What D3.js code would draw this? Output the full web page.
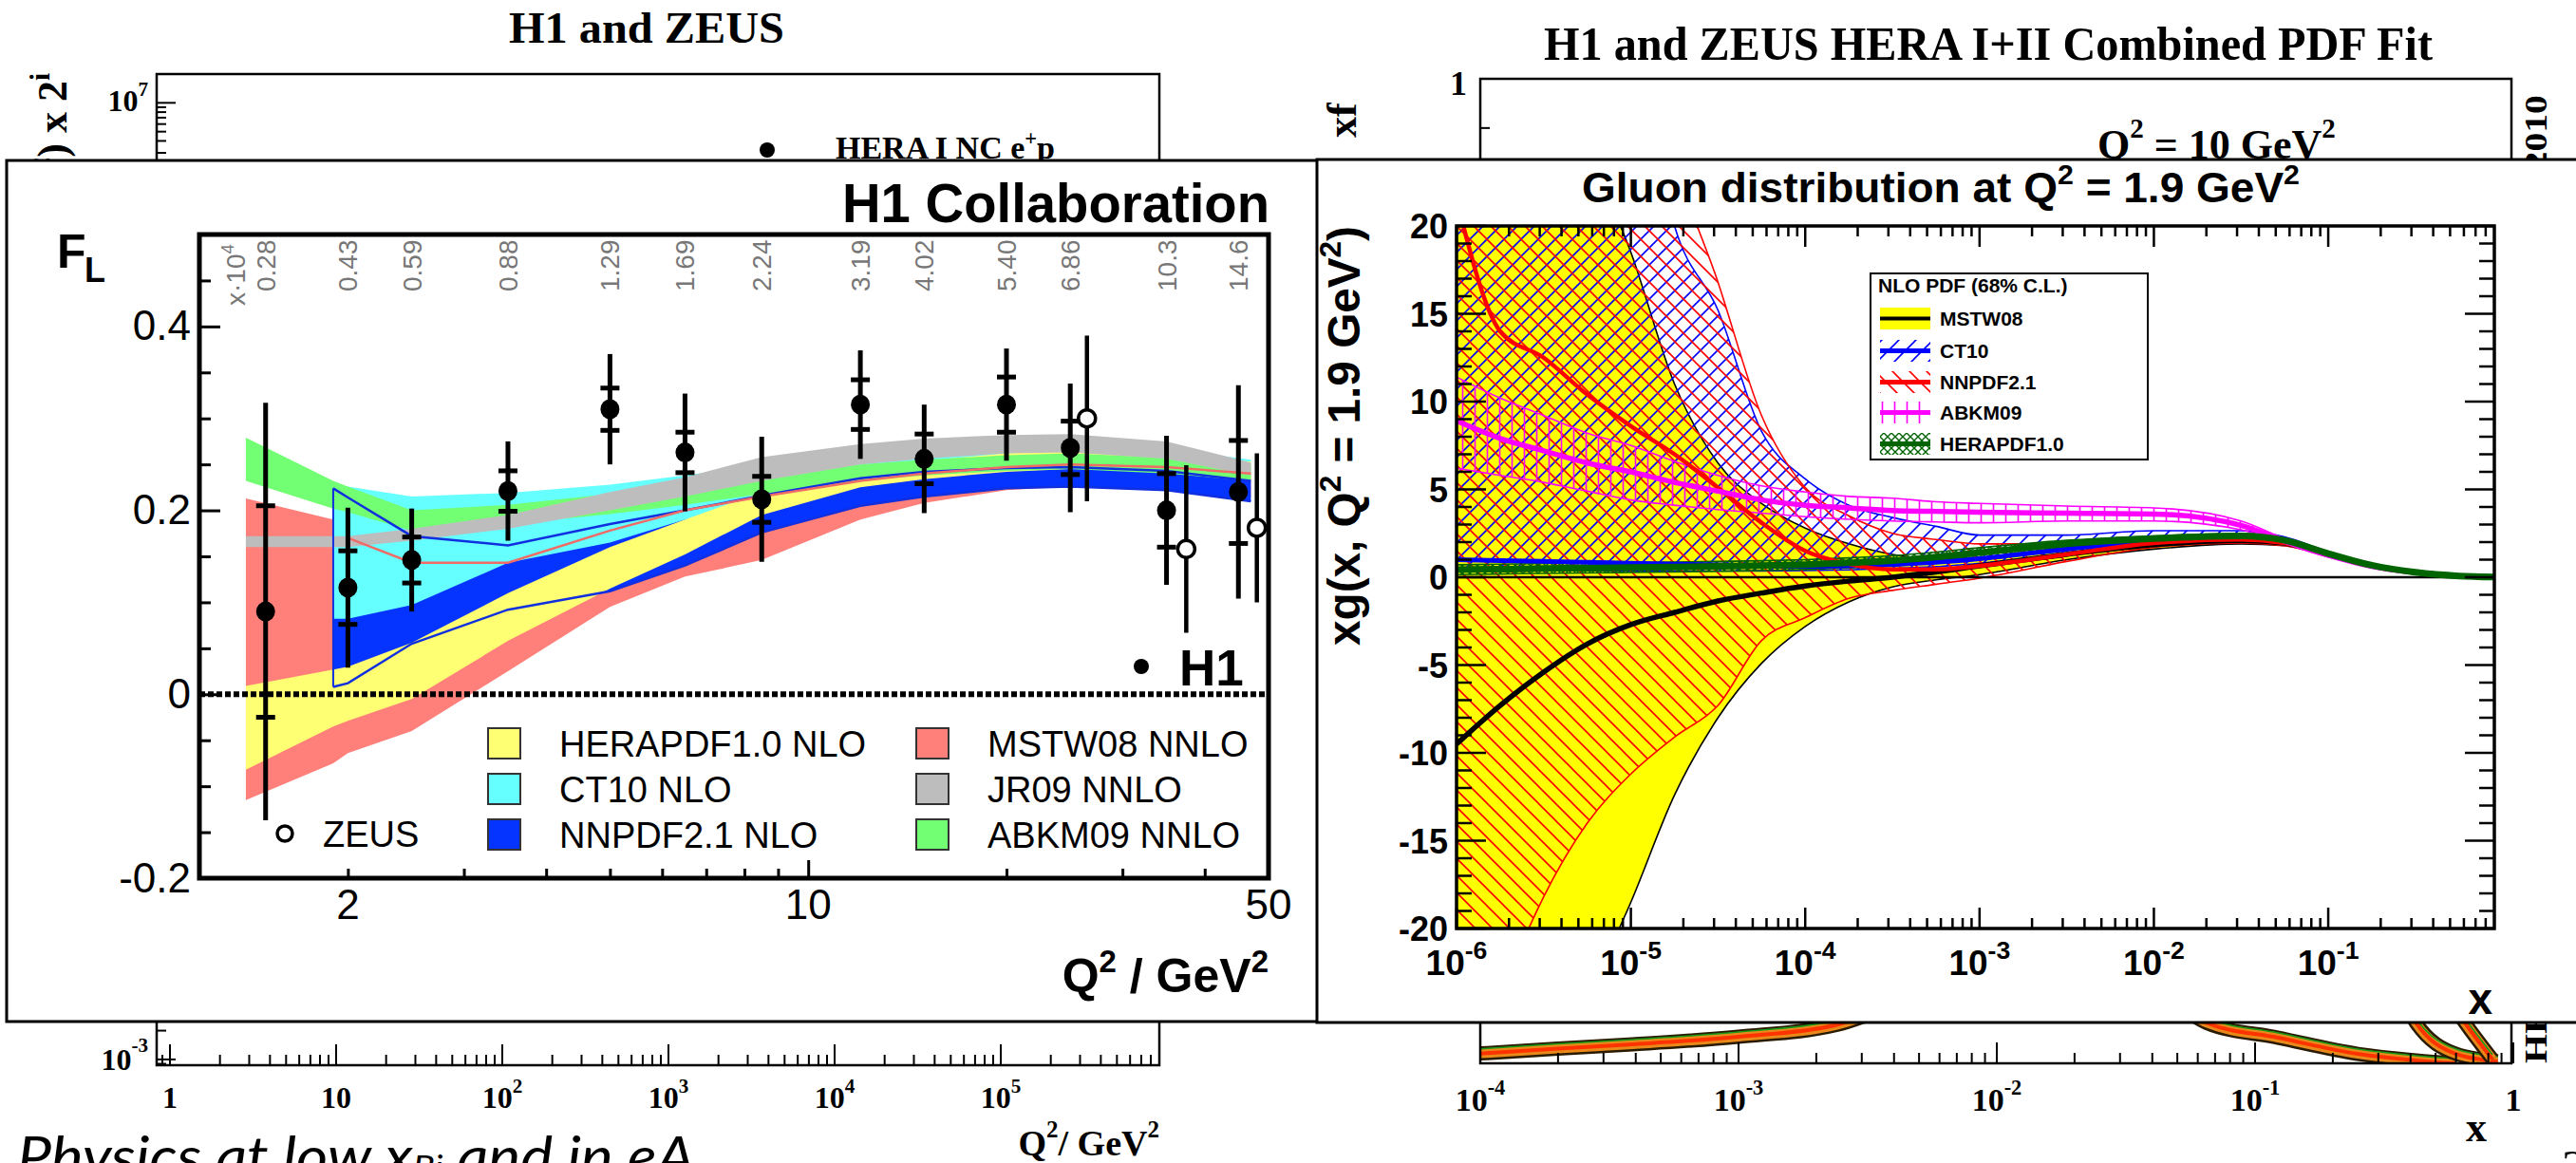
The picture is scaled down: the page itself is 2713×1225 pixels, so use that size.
<!DOCTYPE html>
<html>
<head>
<meta charset="utf-8">
<script src="https://cdn.jsdelivr.net/npm/d3@7"></script>
<style>
  body { margin: 0; background: #fff; }
  svg { display: block; }
</style>
</head>
<body>
<script>
const W = 2713, H = 1225;
const SANS = '"Liberation Sans", Arial, sans-serif';
const SERIF = '"Liberation Serif", "Times New Roman", serif';

/* ---------- F_L panel data ---------- */
const H1_Q2   = [1.5, 2, 2.5, 3.5, 5, 6.5, 8.5, 12, 15, 20, 25, 35, 45];
const H1_FL   = [0.090, 0.116, 0.146, 0.221, 0.310, 0.263, 0.212, 0.315, 0.256, 0.315, 0.268, 0.200, 0.220];
const H1_STAT = [0.115, 0.040, 0.025, 0.022, 0.023, 0.022, 0.025, 0.027, 0.027, 0.030, 0.029, 0.040, 0.056];
const H1_TOT  = [0.227, 0.087, 0.056, 0.054, 0.060, 0.064, 0.068, 0.059, 0.059, 0.061, 0.070, 0.081, 0.116];
const H1_XBJ  = ["0.28", "0.43", "0.59", "0.88", "1.29", "1.69", "2.24", "3.19", "4.02", "5.40", "6.86", "10.3", "14.6"];
const ZEUS_Q2  = [26.5, 37.5, 48];
const ZEUS_FL  = [0.300, 0.158, 0.181];
const ZEUS_ERR = [0.090, 0.091, 0.081];

const BAND_Q2 = [1.4, 1.9, 2, 2.5, 3.5, 5, 6.5, 8.5, 12, 15, 20, 25, 35, 47];
const MSTW_LO = [-0.115, -0.075, -0.064, -0.040, 0.025, 0.095, 0.128, 0.146, 0.190, 0.208, 0.222, 0.226, 0.224, 0.214];
const MSTW_HI = [0.213, 0.190, 0.170, 0.143, 0.143, 0.178, 0.200, 0.215, 0.232, 0.240, 0.247, 0.250, 0.247, 0.240];
const NNPDF_LO = [null, 0.008, 0.012, 0.055, 0.092, 0.112, 0.140, 0.176, 0.205, 0.215, 0.224, 0.226, 0.222, 0.210];
const NNPDF_HI = [null, 0.224, 0.214, 0.172, 0.162, 0.185, 0.200, 0.216, 0.235, 0.242, 0.246, 0.247, 0.243, 0.232];
const CT10_LO = [null, 0.082, 0.082, 0.097, 0.143, 0.165, 0.190, 0.210, 0.232, 0.240, 0.246, 0.248, 0.245, 0.236];
const CT10_HI = [null, 0.226, 0.226, 0.215, 0.219, 0.228, 0.238, 0.250, 0.262, 0.267, 0.271, 0.272, 0.267, 0.255];
const HERA_LO = [-0.082, -0.035, -0.029, -0.005, 0.058, 0.115, 0.152, 0.195, 0.225, 0.234, 0.242, 0.245, 0.242, 0.236];
const HERA_HI = [0.009, 0.027, 0.030, 0.056, 0.110, 0.160, 0.190, 0.220, 0.245, 0.254, 0.262, 0.265, 0.262, 0.253];
const ABKM_LO = [0.232, 0.202, 0.198, 0.178, 0.185, 0.196, 0.206, 0.218, 0.232, 0.238, 0.243, 0.245, 0.240, 0.232];
const ABKM_HI = [0.279, 0.232, 0.226, 0.200, 0.206, 0.218, 0.228, 0.238, 0.250, 0.255, 0.260, 0.262, 0.257, 0.248];
const JR09_LO = [0.160, 0.160, 0.160, 0.167, 0.180, 0.200, 0.215, 0.232, 0.250, 0.256, 0.262, 0.263, 0.256, 0.238];
const JR09_HI = [0.172, 0.172, 0.172, 0.180, 0.195, 0.220, 0.236, 0.258, 0.272, 0.278, 0.282, 0.283, 0.275, 0.252];

const FL_YMAJOR = [-0.2, 0, 0.2, 0.4];
const FL_YLABELS = ["-0.2", "0", "0.2", "0.4"];
const FL_YMINOR = [-0.15, -0.1, -0.05, 0.05, 0.1, 0.15, 0.25, 0.3, 0.35, 0.45];
const FL_XMAJOR = [10];
const FL_XMINOR = [2, 3, 4, 5, 6, 7, 8, 9, 20, 30, 40];
const FL_XLABELS = [2, 10, 50];
const FL_LEGEND = [
  ["HERAPDF1.0 NLO", "#ffff73"], ["CT10 NLO", "#66ffff"], ["NNPDF2.1 NLO", "#0533ff"],
  ["MSTW08 NNLO", "#ff7f7a"], ["JR09 NNLO", "#bdbdbd"], ["ABKM09 NNLO", "#73ff73"]
];

/* ---------- gluon panel data ---------- */
const GX = [1e-6, 1.78e-6, 3.16e-6, 5.62e-6, 1e-5, 1.78e-5, 3.16e-5, 5.62e-5, 1e-4, 1.78e-4, 3.16e-4,
            5.62e-4, 1e-3, 3.16e-3, 1e-2, 3.16e-2, 5.62e-2, 0.1, 0.178, 0.316, 0.562, 0.891];
const G_MSTW_LO = [-48, -38, -30, -24, -18.5, -12.4, -8.0, -4.9, -2.8, -1.4, -0.55, -0.15, 0.15, 1.0, 1.6, 1.9, 1.8, 1.2, 0.6, 0.25, 0.06, 0.005];
const G_MSTW_C  = [-9.5, -7.3, -5.4, -3.8, -2.7, -2.0, -1.35, -0.9, -0.5, -0.22, 0.0, 0.3, 0.65, 1.3, 1.85, 2.1, 1.95, 1.3, 0.65, 0.28, 0.07, 0.01];
const G_MSTW_HI = [48, 40, 32, 24.5, 18.5, 11.0, 6.5, 4.2, 2.8, 1.9, 1.3, 1.05, 1.1, 1.6, 2.1, 2.3, 2.1, 1.4, 0.7, 0.3, 0.08, 0.01];
const G_CT10_LO = [0.45, 0.42, 0.4, 0.38, 0.36, 0.35, 0.35, 0.36, 0.38, 0.42, 0.5, 0.6, 0.8, 1.35, 1.85, 2.0, 1.85, 1.2, 0.58, 0.25, 0.06, 0.005];
const G_CT10_C  = [1.0, 0.95, 0.9, 0.85, 0.8, 0.75, 0.7, 0.65, 0.62, 0.65, 0.72, 0.85, 1.05, 1.6, 2.1, 2.3, 2.1, 1.35, 0.68, 0.28, 0.07, 0.01];
const G_CT10_HI = [80, 70, 60, 48, 32, 20, 15.2, 8.3, 5.6, 4.1, 3.4, 2.9, 2.4, 2.4, 2.65, 2.65, 2.3, 1.45, 0.75, 0.32, 0.08, 0.01];
const G_NNPDF_LO = [-32, -24, -18.2, -14.0, -11.2, -9.1, -7.3, -3.6, -2.3, -1.2, -0.75, -0.4, -0.05, 0.9, 1.7, 1.95, 1.8, 1.2, 0.58, 0.25, 0.06, 0.005];
const G_NNPDF_C  = [21.5, 14.0, 12.5, 10.4, 8.6, 7.0, 5.1, 3.1, 1.5, 0.75, 0.45, 0.45, 0.65, 1.3, 1.95, 2.15, 1.95, 1.3, 0.65, 0.28, 0.07, 0.01];
const G_NNPDF_HI = [90, 80, 68, 52, 36, 24, 16.8, 9.2, 5.1, 3.5, 2.5, 2.15, 1.9, 1.9, 2.3, 2.35, 2.1, 1.4, 0.72, 0.3, 0.08, 0.01];
const G_ABKM_LO = [6.2, 5.8, 5.4, 4.9, 4.4, 4.1, 3.85, 3.65, 3.45, 3.3, 3.2, 3.15, 3.1, 3.2, 3.2, 2.7, 1.9, 1.15, 0.58, 0.25, 0.06, 0.005];
const G_ABKM_C  = [8.9, 7.9, 7.2, 6.5, 6.0, 5.4, 4.9, 4.4, 4.1, 3.95, 3.8, 3.75, 3.7, 3.65, 3.6, 2.95, 2.05, 1.25, 0.62, 0.27, 0.07, 0.01];
const G_ABKM_HI = [11.4, 10.2, 9.2, 8.2, 7.5, 6.6, 5.8, 5.2, 4.85, 4.6, 4.5, 4.3, 4.2, 4.05, 3.95, 3.2, 2.2, 1.35, 0.68, 0.3, 0.08, 0.01];
const G_HERA_LO = [0.15, 0.18, 0.22, 0.24, 0.27, 0.3, 0.34, 0.38, 0.44, 0.54, 0.67, 0.87, 1.12, 1.7, 2.05, 2.22, 2.0, 1.28, 0.64, 0.26, 0.06, 0.005];
const G_HERA_C  = [0.43, 0.46, 0.5, 0.52, 0.55, 0.58, 0.62, 0.66, 0.72, 0.82, 0.95, 1.15, 1.4, 1.9, 2.2, 2.35, 2.1, 1.35, 0.68, 0.28, 0.07, 0.01];
const G_HERA_HI = [0.71, 0.74, 0.78, 0.8, 0.83, 0.86, 0.9, 0.94, 1.0, 1.1, 1.23, 1.43, 1.68, 2.1, 2.35, 2.48, 2.2, 1.42, 0.72, 0.3, 0.08, 0.012];

const G_YLABELS = [20, 15, 10, 5, 0, -5, -10, -15, -20];
const G_XLABELS = [[1e-6, "-6"], [1e-5, "-5"], [1e-4, "-4"], [1e-3, "-3"], [1e-2, "-2"], [1e-1, "-1"]];
const G_LEGEND = ["MSTW08", "CT10", "NNPDF2.1", "ABKM09", "HERAPDF1.0"];

/* ---------- background slide plots ---------- */
const BGL_XLABELS = [[1, ""], [10, ""], [100, "2"], [1e3, "3"], [1e4, "4"], [1e5, "5"]];
const BGR_XLABELS = [[1e-4, "10", "-4"], [1e-3, "10", "-3"], [1e-2, "10", "-2"], [1e-1, "10", "-1"], [1, "1", ""]];
const BGR_CURVES = [
  [[1e-4, 0.010], [2e-4, 0.015], [3.9e-4, 0.0193], [1e-3, 0.027], [2.4e-3, 0.039], [4e-3, 0.06]],
  [[0.05, 0.06], [0.065, 0.041], [0.123, 0.026], [0.25, 0.0096], [0.42, 0.003], [0.6, 0.0]],
  [[0.38, 0.06], [0.42, 0.041], [0.6, 0.0096], [0.87, 0.002]],
  [[0.58, 0.06], [0.65, 0.041], [0.83, 0.004]]
];

/* ---------------------------------- */
function richText(parent, x, y, parts, size, o = {}) {
  const t = parent.append("text").attr("x", x).attr("y", y)
    .attr("font-size", size).attr("font-family", o.family || SANS)
    .attr("font-weight", o.weight || "normal").attr("font-style", o.style || "normal")
    .attr("text-anchor", o.anchor || "start").attr("fill", o.fill || "#000");
  if (o.transform) t.attr("transform", o.transform);
  let raised = 0;
  parts.forEach(p => {
    const [str, kind] = Array.isArray(p) ? p : [p, null];
    const span = t.append("tspan").text(str);
    let target = 0;
    if (kind === "sup") { target = -size * (o.raise || 0.42); span.attr("font-size", size * (o.supScale || 0.66)); }
    span.attr("dy", target - raised);
    raised = target;
  });
  if (o.length) t.attr("textLength", o.length).attr("lengthAdjust", "spacingAndGlyphs");
  return t;
}

const svg = d3.select("body").append("svg").attr("width", W).attr("height", H);
svg.append("rect").attr("width", W).attr("height", H).attr("fill", "#fff");
const defs = svg.append("defs");

/* ===== background: left plot (H1 and ZEUS) ===== */
const bgL = svg.append("g");
const bgLX = d3.scaleLog().domain([0.832, 9.0e5]).range([165, 1221]);
const bgLY = d3.scaleLog().domain([8.7e-4, 2.0e7]).range([1122, 78]);
richText(bgL, 681, 45, ["H1 and ZEUS"], 46, {family: SERIF, weight: "bold", anchor: "middle", length: 290});
bgL.append("rect").attr("x", 165).attr("y", 78).attr("width", 1056).attr("height", 1044)
   .attr("fill", "none").attr("stroke", "#000").attr("stroke-width", 2.5);
bgLX.ticks().forEach(v => {
  const major = Math.abs(Math.log10(v) - Math.round(Math.log10(v))) < 1e-6;
  bgL.append("line").attr("x1", bgLX(v)).attr("x2", bgLX(v))
     .attr("y1", 1122).attr("y2", 1122 - (major ? 22 : 11)).attr("stroke", "#000").attr("stroke-width", 2);
});
bgLY.ticks(30).forEach(v => {
  const major = Math.abs(Math.log10(v) - Math.round(Math.log10(v))) < 1e-6;
  bgL.append("line").attr("x1", 165).attr("x2", 165 + (major ? 20 : 10))
     .attr("y1", bgLY(v)).attr("y2", bgLY(v)).attr("stroke", "#000").attr("stroke-width", 2);
});
BGL_XLABELS.forEach(([v, e]) => {
  richText(bgL, bgLX(v), 1167, e ? ["10", [e, "sup"]] : [String(v)], 32, {family: SERIF, weight: "bold", anchor: "middle", raise: 0.5});
});
richText(bgL, 1221, 1217, ["Q", ["2", "sup"], "/ GeV", ["2", "sup"]], 38, {family: SERIF, weight: "bold", anchor: "end", raise: 0.5});
richText(bgL, 156, 117, ["10", ["7", "sup"]], 32, {family: SERIF, weight: "bold", anchor: "end", raise: 0.5});
richText(bgL, 156, 1127, ["10", ["-3", "sup"]], 32, {family: SERIF, weight: "bold", anchor: "end", raise: 0.6});
richText(bgL, 0, 0, ["\u03c3", "r,NC(x,Q", ["2", "sup"], ") x 2", ["i", "sup"]], 44,
  {family: SERIF, weight: "bold", anchor: "end", transform: "translate(70,77) rotate(-90)"});
bgL.append("circle").attr("cx", 808).attr("cy", 158).attr("r", 8).attr("fill", "#000");
richText(bgL, 880, 167, ["HERA I NC e", ["+", "sup"], "p"], 34, {family: SERIF, weight: "bold"});

/* ===== background: right plot (HERA I+II PDF fit) ===== */
const bgR = svg.append("g");
const bgRX = d3.scaleLog().domain([1e-4, 1]).range([1559, 2647]);
const bgRY = d3.scaleLinear().domain([0, 1]).range([1120, 83]);
richText(bgR, 2094, 63, ["H1 and ZEUS HERA I+II Combined PDF Fit"], 50, {family: SERIF, weight: "bold", anchor: "middle", length: 936});
defs.append("clipPath").attr("id", "bgRclip").append("rect")
    .attr("x", 1559).attr("y", 83).attr("width", 1086).attr("height", 1037);
const bgRc = bgR.append("g").attr("clip-path", "url(#bgRclip)");
const bgLine = d3.line().x(d => bgRX(d[0])).y(d => bgRY(d[1])).curve(d3.curveMonotoneX);
BGR_CURVES.forEach(c => {
  bgRc.append("path").attr("d", bgLine(c)).attr("fill", "none").attr("stroke", "#2a1a00").attr("stroke-width", 15);
  bgRc.append("path").attr("d", bgLine(c)).attr("fill", "none").attr("stroke", "#e8891a").attr("stroke-width", 10);
  bgRc.append("path").attr("d", bgLine(c)).attr("fill", "none").attr("stroke", "#ff3300").attr("stroke-width", 4);
  bgRc.append("path").attr("d", bgLine(c)).attr("fill", "none").attr("stroke", "#1a9a1a").attr("stroke-width", 1.5)
      .attr("transform", "translate(0,-5)");
});
bgR.append("rect").attr("x", 1559).attr("y", 83).attr("width", 1086).attr("height", 1037)
   .attr("fill", "none").attr("stroke", "#000").attr("stroke-width", 2.5);
bgRX.ticks().forEach(v => {
  const major = Math.abs(Math.log10(v) - Math.round(Math.log10(v))) < 1e-6;
  bgR.append("line").attr("x1", bgRX(v)).attr("x2", bgRX(v))
     .attr("y1", 1120).attr("y2", 1120 - (major ? 22 : 11)).attr("stroke", "#000").attr("stroke-width", 2);
});
d3.range(0, 1.0001, 0.05).forEach(v => {
  bgR.append("line").attr("x1", 1559).attr("x2", 1559 + 10).attr("y1", bgRY(v)).attr("y2", bgRY(v))
     .attr("stroke", "#000").attr("stroke-width", 2);
});
BGR_XLABELS.forEach(([v, b, e]) => {
  richText(bgR, bgRX(v), 1170, e ? [b, [e, "sup"]] : [b], 34, {family: SERIF, weight: "bold", anchor: "middle", raise: 0.5});
});
richText(bgR, 2608, 1202, ["x"], 44, {family: SERIF, weight: "bold", anchor: "middle"});
richText(bgR, 1545, 100, ["1"], 36, {family: SERIF, weight: "bold", anchor: "end"});
richText(bgR, 0, 0, ["xf"], 44, {family: SERIF, weight: "bold", transform: "translate(1428,145) rotate(-90)"});
richText(bgR, 2209, 167, ["Q", ["2", "sup"], " = 10 GeV", ["2", "sup"]], 44, {family: SERIF, weight: "bold", raise: 0.5});
richText(bgR, 0, 0, ["HERAPDF Structure Function Working Group   March 2010"], 34,
  {family: SERIF, weight: "bold", length: 1020, transform: "translate(2682,1120) rotate(-90)"});
richText(svg, 2698, 1246, ["3"], 50, {family: SERIF});

/* slide footer */
richText(svg, 18, 1239, ["Physics at low x", ["Bj", "sup"], " and in eA"], 58,
  {family: 'Lato, "Open Sans", sans-serif', style: "italic", raise: -0.05, supScale: 0.6, length: 714});

/* ===== foreground: F_L panel ===== */
const fl = svg.append("g");
fl.append("rect").attr("x", 7).attr("y", 169).attr("width", 1385).attr("height", 907)
  .attr("fill", "#fff").attr("stroke", "#000").attr("stroke-width", 3);
const flX = d3.scaleLog().domain([1.19, 50]).range([210, 1336]);
const flY = d3.scaleLinear().domain([-0.2, 0.5]).range([925, 247]);
defs.append("clipPath").attr("id", "flclip").append("rect")
    .attr("x", 210).attr("y", 247).attr("width", 1126).attr("height", 678);
const flPlot = fl.append("g").attr("clip-path", "url(#flclip)");

function bandRows(lo, hi) { return BAND_Q2.map((q, i) => ({q, lo: lo[i], hi: hi[i]})); }
const flArea = d3.area().defined(d => d.lo !== null)
  .x(d => flX(d.q)).y0(d => flY(d.lo)).y1(d => flY(d.hi));
const flEdge = (key) => d3.line().defined(d => d.lo !== null).x(d => flX(d.q)).y(d => flY(d[key]));
[[MSTW_LO, MSTW_HI, "#ff7f7a"], [NNPDF_LO, NNPDF_HI, "#0533ff"], [CT10_LO, CT10_HI, "#66ffff"],
 [HERA_LO, HERA_HI, "#ffff73"], [ABKM_LO, ABKM_HI, "#73ff73"], [JR09_LO, JR09_HI, "#bdbdbd"]]
  .forEach(([lo, hi, c]) => {
    flPlot.append("path").datum(bandRows(lo, hi)).attr("d", flArea).attr("fill", c).attr("stroke", "none");
  });
const nnRows = bandRows(NNPDF_LO, NNPDF_HI);
["lo", "hi"].forEach(k => {
  flPlot.append("path").datum(nnRows).attr("d", flEdge(k)).attr("fill", "none").attr("stroke", "#1030e0").attr("stroke-width", 2.5);
});
flPlot.append("line").attr("x1", flX(BAND_Q2[1])).attr("x2", flX(BAND_Q2[1]))
  .attr("y1", flY(NNPDF_LO[1])).attr("y2", flY(NNPDF_HI[1])).attr("stroke", "#1030e0").attr("stroke-width", 2);
flPlot.append("path").datum(bandRows(MSTW_LO, MSTW_HI).slice(2)).attr("d", flEdge("hi"))
  .attr("fill", "none").attr("stroke", "#f06a66").attr("stroke-width", 2.5);

// zero line
fl.append("line").attr("x1", 210).attr("x2", 1336).attr("y1", flY(0)).attr("y2", flY(0))
  .attr("stroke", "#000").attr("stroke-width", 6).attr("stroke-dasharray", "6,3");

// frame + axes
fl.append("rect").attr("x", 210).attr("y", 247).attr("width", 1126).attr("height", 678)
  .attr("fill", "none").attr("stroke", "#000").attr("stroke-width", 5);
fl.append("g").attr("transform", "translate(210,0)")
  .call(d3.axisLeft(flY).tickValues(FL_YMAJOR).tickSize(-22).tickPadding(9).tickFormat((d, i) => FL_YLABELS[i]))
  .call(g => g.select(".domain").remove())
  .call(g => g.selectAll("line").attr("stroke-width", 3))
  .call(g => g.selectAll("text").attr("font-size", 44).attr("font-family", SANS).attr("fill", "#000"));
fl.append("g").attr("transform", "translate(210,0)")
  .call(d3.axisLeft(flY).tickValues(FL_YMINOR).tickSize(-12).tickFormat(""))
  .call(g => g.select(".domain").remove())
  .call(g => g.selectAll("line").attr("stroke-width", 3));
fl.append("g").attr("transform", "translate(0,925)")
  .call(d3.axisBottom(flX).tickValues(FL_XMAJOR).tickSize(-19).tickFormat(""))
  .call(g => g.select(".domain").remove())
  .call(g => g.selectAll("line").attr("stroke-width", 3));
fl.append("g").attr("transform", "translate(0,925)")
  .call(d3.axisBottom(flX).tickValues(FL_XMINOR).tickSize(-10).tickFormat(""))
  .call(g => g.select(".domain").remove())
  .call(g => g.selectAll("line").attr("stroke-width", 3));
FL_XLABELS.forEach(v => {
  richText(fl, flX(v), 968, [String(v)], 44, {anchor: "middle"});
});

// x_Bj labels along the top
H1_Q2.forEach((q, i) => {
  richText(fl, 0, 0, [H1_XBJ[i]], 28, {fill: "#777", transform: `translate(${flX(q) + 10},307) rotate(-90)`});
});
richText(fl, 0, 0, ["x\u00b710", ["4", "sup"]], 28, {fill: "#777", transform: "translate(258,322) rotate(-90)"});

// legend
FL_LEGEND.forEach(([name, c], i) => {
  const col = Math.floor(i / 3), row = i % 3;
  const bx = col ? 965 : 514, by = 767 + row * 48;
  fl.append("rect").attr("x", bx).attr("y", by).attr("width", 34).attr("height", 32)
    .attr("fill", c).attr("stroke", "#333").attr("stroke-width", 2);
  richText(fl, bx + 75, by + 30, [name], 38);
});
fl.append("circle").attr("cx", 300).attr("cy", 878).attr("r", 8).attr("fill", "#fff").attr("stroke", "#000").attr("stroke-width", 3.5);
richText(fl, 340, 892, ["ZEUS"], 38);
fl.append("circle").attr("cx", 1202).attr("cy", 702).attr("r", 8).attr("fill", "#000");
richText(fl, 1242, 722, ["H1"], 53, {weight: "bold"});

// data points
const h1 = H1_Q2.map((q, i) => ({q, v: H1_FL[i], s: H1_STAT[i], t: H1_TOT[i]}));
const zeus = ZEUS_Q2.map((q, i) => ({q, v: ZEUS_FL[i], t: ZEUS_ERR[i]}));
const pts = fl.append("g");
pts.selectAll("line.zerr").data(zeus).join("line").attr("class", "zerr")
  .attr("x1", d => flX(d.q)).attr("x2", d => flX(d.q))
  .attr("y1", d => flY(d.v - d.t)).attr("y2", d => flY(d.v + d.t))
  .attr("stroke", "#000").attr("stroke-width", 4.5);
pts.selectAll("circle.zeus").data(zeus).join("circle").attr("class", "zeus")
  .attr("cx", d => flX(d.q)).attr("cy", d => flY(d.v)).attr("r", 9)
  .attr("fill", "#fff").attr("stroke", "#000").attr("stroke-width", 3.5);
pts.selectAll("line.tot").data(h1).join("line").attr("class", "tot")
  .attr("x1", d => flX(d.q)).attr("x2", d => flX(d.q))
  .attr("y1", d => flY(d.v - d.t)).attr("y2", d => flY(d.v + d.t))
  .attr("stroke", "#000").attr("stroke-width", 5);
["-", "+"].forEach(sign => {
  pts.selectAll("line.stat" + (sign === "+" ? "p" : "m")).data(h1).join("line")
    .attr("class", "stat" + (sign === "+" ? "p" : "m"))
    .attr("x1", d => flX(d.q) - 10).attr("x2", d => flX(d.q) + 10)
    .attr("y1", d => flY(sign === "+" ? d.v + d.s : d.v - d.s))
    .attr("y2", d => flY(sign === "+" ? d.v + d.s : d.v - d.s))
    .attr("stroke", "#000").attr("stroke-width", 5);
});
pts.selectAll("ellipse.h1").data(h1).join("ellipse").attr("class", "h1")
  .attr("cx", d => flX(d.q)).attr("cy", d => flY(d.v)).attr("rx", 10).attr("ry", 10.5).attr("fill", "#000");

// titles
richText(fl, 1337, 234, ["H1 Collaboration"], 57, {weight: "bold", anchor: "end", length: 450});
richText(fl, 60, 282, ["F"], 50, {weight: "bold"});
richText(fl, 89, 297, ["L"], 36, {weight: "bold"});
richText(fl, 1336, 1045, ["Q", ["2", "sup"], " / GeV", ["2", "sup"]], 50, {weight: "bold", anchor: "end"});

/* ===== foreground: gluon panel ===== */
const gp = svg.append("g");
gp.append("rect").attr("x", 1387).attr("y", 168).attr("width", 1340).attr("height", 909)
  .attr("fill", "#fff").attr("stroke", "#000").attr("stroke-width", 3);
const gX = d3.scaleLog().domain([1e-6, 0.897]).range([1534, 2627]);
const gY = d3.scaleLinear().domain([-20, 20]).range([978, 238]);

function hatch(id, size, paths, color, width) {
  const p = defs.append("pattern").attr("id", id).attr("patternUnits", "userSpaceOnUse")
    .attr("width", size).attr("height", size);
  p.append("path").attr("d", paths).attr("stroke", color).attr("stroke-width", width).attr("fill", "none");
}
hatch("ctH", 18, "M0,18 L18,0 M-3,3 L3,-3 M15,21 L21,15", "#0000ff", 1.6);
hatch("nnH", 18, "M0,0 L18,18 M-3,15 L3,21 M15,-3 L21,3", "#ff0000", 1.6);
hatch("abH", 13, "M6.5,0 L6.5,13", "#ff00ff", 1.6);
hatch("heH", 8, "M0,0 L8,8 M0,8 L8,0", "#006400", 1.4);

defs.append("clipPath").attr("id", "gclip").append("rect")
  .attr("x", 1534).attr("y", 238).attr("width", 1093).attr("height", 740);
const gPlot = gp.append("g").attr("clip-path", "url(#gclip)");
const gRows = (lo, c, hi) => GX.map((x, i) => ({x, lo: lo[i], c: c[i], hi: hi[i]}));
const gArea = d3.area().x(d => gX(d.x)).y0(d => gY(d.lo)).y1(d => gY(d.hi)).curve(d3.curveMonotoneX);
const gLine = (k) => d3.line().x(d => gX(d.x)).y(d => gY(d[k])).curve(d3.curveMonotoneX);

const pdfs = [
  {rows: gRows(G_MSTW_LO, G_MSTW_C, G_MSTW_HI), fill: "#ffff00", edge: "#000", lw: 5.5},
  {rows: gRows(G_CT10_LO, G_CT10_C, G_CT10_HI), fill: "url(#ctH)", edge: "#0000ff", lw: 5},
  {rows: gRows(G_NNPDF_LO, G_NNPDF_C, G_NNPDF_HI), fill: "url(#nnH)", edge: "#ff0000", lw: 4.5},
  {rows: gRows(G_ABKM_LO, G_ABKM_C, G_ABKM_HI), fill: "url(#abH)", edge: "#ff00ff", lw: 5.5},
  {rows: gRows(G_HERA_LO, G_HERA_C, G_HERA_HI), fill: "url(#heH)", edge: "#006400", lw: 7}
];
pdfs.forEach(p => {
  gPlot.append("path").datum(p.rows).attr("d", gArea).attr("fill", p.fill).attr("stroke", "none");
  ["lo", "hi"].forEach(k => gPlot.append("path").datum(p.rows).attr("d", gLine(k))
    .attr("fill", "none").attr("stroke", p.edge).attr("stroke-width", 1.6));
});
gPlot.append("line").attr("x1", 1534).attr("x2", 2627).attr("y1", gY(0)).attr("y2", gY(0))
  .attr("stroke", "#000").attr("stroke-width", 2.5);
pdfs.forEach(p => {
  gPlot.append("path").datum(p.rows).attr("d", gLine("c")).attr("fill", "none")
    .attr("stroke", p.edge).attr("stroke-width", p.lw);
});

// frame and ticks
gp.append("rect").attr("x", 1534).attr("y", 238).attr("width", 1093).attr("height", 740)
  .attr("fill", "none").attr("stroke", "#000").attr("stroke-width", 3.5);
const gTicks = gp.append("g").attr("stroke", "#000").attr("stroke-width", 2.5);
d3.range(-20, 20.5, 1).forEach(v => {
  const len = v % 5 === 0 ? 31 : 16;
  gTicks.append("line").attr("x1", 1534).attr("x2", 1534 + len).attr("y1", gY(v)).attr("y2", gY(v));
  gTicks.append("line").attr("x1", 2627).attr("x2", 2627 - len).attr("y1", gY(v)).attr("y2", gY(v));
});
gX.ticks().forEach(v => {
  const major = Math.abs(Math.log10(v) - Math.round(Math.log10(v))) < 1e-6;
  const len = major ? 22 : 11;
  gTicks.append("line").attr("x1", gX(v)).attr("x2", gX(v)).attr("y1", 978).attr("y2", 978 - len);
  gTicks.append("line").attr("x1", gX(v)).attr("x2", gX(v)).attr("y1", 238).attr("y2", 238 + len);
});
G_YLABELS.forEach(v => {
  richText(gp, 1525, gY(v) + 13, [String(v)], 36, {weight: "bold", anchor: "end"});
});
G_XLABELS.forEach(([v, e]) => {
  richText(gp, gX(v), 1027, ["10", [e, "sup"]], 37, {weight: "bold", anchor: "middle", raise: 0.45, supScale: 0.72});
});
richText(gp, 2625, 1068, ["x"], 46, {weight: "bold", anchor: "end"});
richText(gp, 1666, 213, ["Gluon distribution at Q", ["2", "sup"], " = 1.9 GeV", ["2", "sup"]], 45, {weight: "bold", length: 756});
richText(gp, 0, 0, ["xg(x, Q", ["2", "sup"], " = 1.9 GeV", ["2", "sup"], ")"], 48,
  {weight: "bold", anchor: "middle", length: 442, transform: "translate(1432,459) rotate(-90)"});

// legend
const gl = gp.append("g");
gl.append("rect").attr("x", 1970).attr("y", 288).attr("width", 292).attr("height", 196)
  .attr("fill", "#fff").attr("stroke", "#000").attr("stroke-width", 2);
richText(gl, 1978, 308, ["NLO PDF (68% C.L.)"], 21, {weight: "bold"});
G_LEGEND.forEach((name, i) => {
  const base = [343, 377, 410, 442, 475][i];
  const p = pdfs[i];
  gl.append("rect").attr("x", 1980).attr("y", base - 19).attr("width", 53).attr("height", 23).attr("fill", p.fill);
  gl.append("line").attr("x1", 1980).attr("x2", 2033).attr("y1", base - 7.5).attr("y2", base - 7.5)
    .attr("stroke", p.edge).attr("stroke-width", i === 0 ? 4 : 5);
  richText(gl, 2043, base, [name], 21, {weight: "bold"});
});
</script>
</body>
</html>
